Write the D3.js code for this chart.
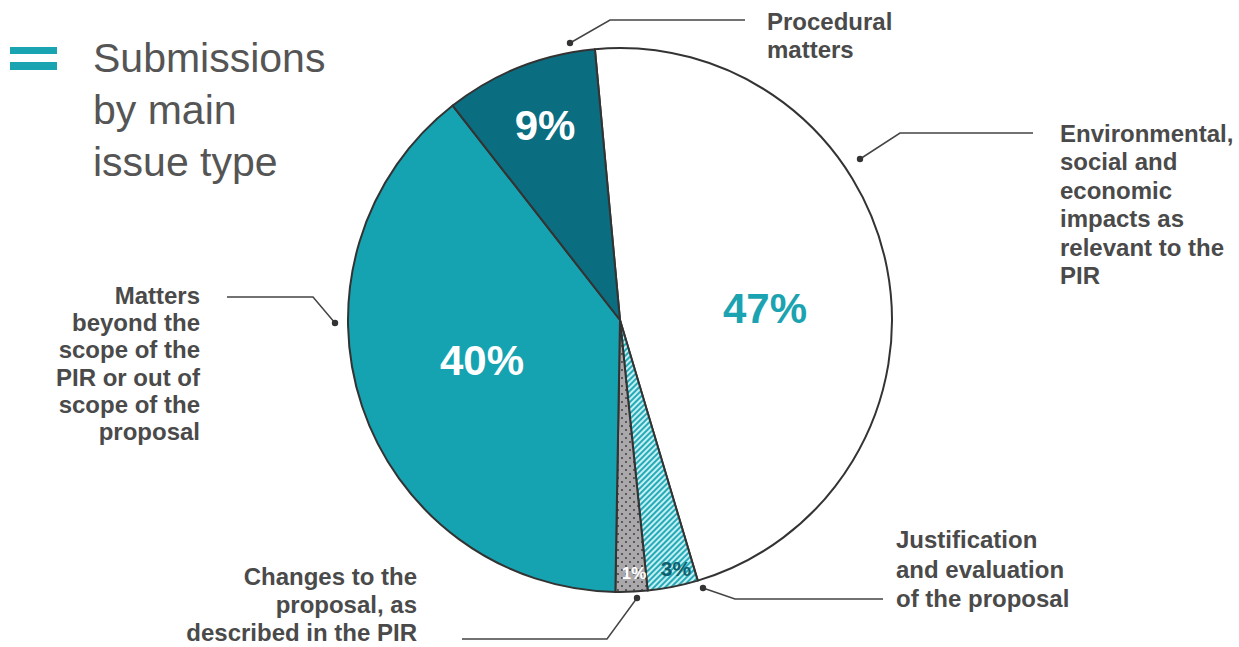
<!DOCTYPE html>
<html><head><meta charset="utf-8">
<script src="https://cdn.jsdelivr.net/npm/d3@7"></script>
<style>body{margin:0;background:#fff;} svg{display:block;} svg text{font-family:'Liberation Sans',Arial,Helvetica,sans-serif;}</style>
</head><body>
<svg id="chart" width="1239" height="647"></svg>
<script>
const categories = ["Environmental, social and economic impacts as relevant to the PIR","Justification and evaluation of the proposal","Changes to the proposal, as described in the PIR","Matters beyond the scope of the PIR or out of scope of the proposal","Procedural matters"];
// slice sizes as drawn in the picture (labels are rounded)
const values = [47, 3, 1.9, 39.3, 9.1];
const valueLabels = ["47%","3%","1%","40%","9%"];
const titleLines = ["Submissions","by main","issue type"];

const FONT = "'Liberation Sans', Arial, Helvetica, sans-serif";
const svg = d3.select("#chart");
const cx = 620, cy = 320, R = 272;
const defs = svg.append("defs");
const hatch = defs.append("pattern").attr("id","hatch").attr("patternUnits","userSpaceOnUse").attr("width",4).attr("height",4).attr("patternTransform","rotate(45)");
hatch.append("rect").attr("width",4).attr("height",4).attr("fill","#c4eff3");
hatch.append("rect").attr("width",2).attr("height",4).attr("fill","#25aab7");
const dots = defs.append("pattern").attr("id","dots").attr("patternUnits","userSpaceOnUse").attr("width",8).attr("height",8);
dots.append("rect").attr("width",8).attr("height",8).attr("fill","#aaa8aa");
dots.append("circle").attr("cx",2).attr("cy",2).attr("r",0.9).attr("fill","#333");
dots.append("circle").attr("cx",6).attr("cy",6).attr("r",0.9).attr("fill","#333");

const fills = ["#ffffff","url(#hatch)","url(#dots)","#16a3b1","#0b6d80"];
const start = -5.3*Math.PI/180;
const pie = d3.pie().sort(null).value(d=>d).startAngle(start).endAngle(start+2*Math.PI);
const arcs = pie(values);
const arc = d3.arc().innerRadius(0).outerRadius(R);
const g = svg.append("g").attr("transform",`translate(${cx},${cy})`);
g.selectAll("path").data(arcs).join("path").attr("d",arc).attr("fill",(d,i)=>fills[i]).attr("stroke","#333").attr("stroke-width",2).attr("stroke-linejoin","round");

// value labels
const lblPos = [[145,-12],[56,248],[14,253],[-138,40],[-75,-195]];
const lblStyle = [{c:"#1ba3b1",s:42},{c:"#0d5f6e",s:21},{c:"#ffffff",s:17},{c:"#ffffff",s:42},{c:"#ffffff",s:42}];
g.selectAll("text.val").data(arcs).join("text").attr("class","val")
 .attr("x",(d,i)=>lblPos[i][0]).attr("y",(d,i)=>lblPos[i][1])
 .attr("text-anchor","middle").attr("dominant-baseline","central").attr("font-family",FONT)
 .attr("font-weight","bold").attr("font-size",(d,i)=>lblStyle[i].s+"px")
 .attr("fill",(d,i)=>lblStyle[i].c).text((d,i)=>valueLabels[i]);

// title
svg.append("rect").attr("x",10).attr("y",47).attr("width",47).attr("height",7).attr("fill","#1aa3b1");
svg.append("rect").attr("x",10).attr("y",62).attr("width",47).attr("height",8).attr("fill","#1aa3b1");
svg.append("g").selectAll("text").data(titleLines).join("text").attr("font-family",FONT)
 .attr("x",93).attr("y",(d,i)=>72+i*52).attr("font-size","41px").attr("fill","#555").text(d=>d);

// annotations
const ann = svg.append("g");
function leader(pts){
  ann.append("path").attr("d",d3.line()(pts)).attr("fill","none").attr("stroke","#444").attr("stroke-width",1.5);
  ann.append("circle").attr("cx",pts[0][0]).attr("cy",pts[0][1]).attr("r",3.2).attr("fill","#333");
}
function label(lines,x,y0,anchor,step){
  ann.append("g").selectAll("text").data(lines).join("text").attr("x",x).attr("y",(d,i)=>y0+i*step)
   .attr("text-anchor",anchor).attr("font-family",FONT).attr("font-size","24px").attr("font-weight","bold").attr("fill","#4a4a4a").text(d=>d);
}
leader([[570,43],[610,20],[745,20]]);
label(["Procedural","matters"],767,30,"start",28);
leader([[860,159],[900,133],[1033,133]]);
label(["Environmental,","social and","economic","impacts as","relevant to the","PIR"],1060,142,"start",28.4);
leader([[335,323],[313,297],[227,297]]);
label(["Matters","beyond the","scope of the","PIR or out of","scope of the","proposal"],200,304,"end",27.2);
leader([[637,598],[607,639],[462,639]]);
label(["Changes to the","proposal, as","described in the PIR"],417,585,"end",28);
leader([[703,588],[735,599],[883,599]]);
label(["Justification","and evaluation","of the proposal"],896,548,"start",29.5);
</script>
</body></html>
